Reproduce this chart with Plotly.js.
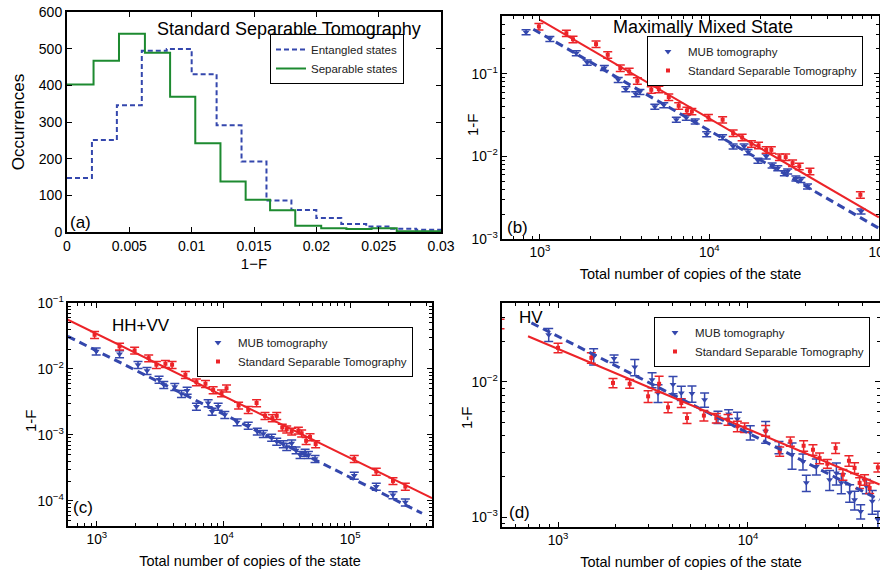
<!DOCTYPE html>
<html><head><meta charset="utf-8">
<script src="https://cdn.plot.ly/plotly-3.0.1.min.js"></script>
<style>html,body{margin:0;padding:0;background:#fff}#chart{width:880px;height:571px}</style>
</head><body><div id="chart"></div>
<script>
// ---------- Panel (a): histograms of 1-F ----------
const entangledEdges = [0, 0.002, 0.004, 0.006, 0.008, 0.010, 0.012, 0.014, 0.016, 0.018, 0.020, 0.022, 0.024, 0.026, 0.028, 0.030];
const entangledCounts = [147, 251, 346, 494, 499, 430, 291, 192, 86, 60, 38, 22, 15, 9, 6];
const separableEdges = [0, 0.00213, 0.00417, 0.00625, 0.00827, 0.01029, 0.01231, 0.01433, 0.01629, 0.01831, 0.02039, 0.02241, 0.02443, 0.02645, 0.0285, 0.030];
const separableCounts = [402, 467, 541, 489, 369, 242, 138, 88, 59, 17, 10, 8, 10, 2, 2];

// ---------- Panel (b): Maximally Mixed State ----------
const mmMubN = [828, 1144, 1638, 1900, 2399, 2897, 3214, 3675, 3891, 4765, 5380, 6380, 7308, 8247, 9640, 11970, 13810, 16020, 16900, 19350, 21650, 23450, 25330, 27700, 28970, 32400, 34680, 37940, 78540];
const mmMubF = [0.319, 0.265, 0.178, 0.137, 0.118, 0.0846, 0.065, 0.0568, 0.0605, 0.0399, 0.0418, 0.0278, 0.0294, 0.0265, 0.0186, 0.0171, 0.0132, 0.0132, 0.0113, 0.0089, 0.0100, 0.0078, 0.0072, 0.00628, 0.0066, 0.0054, 0.0052, 0.00434, 0.00216];
const mmSstN = [986, 1432, 1567, 2143, 2512, 2980, 3361, 3758, 4540, 5033, 5758, 6590, 7366, 7880, 9870, 11970, 13810, 15600, 17700, 19500, 21650, 23200, 25900, 28200, 30970, 33900, 39200, 77800];
const mmSstF = [0.374, 0.31, 0.262, 0.229, 0.17, 0.117, 0.107, 0.0822, 0.064, 0.065, 0.0523, 0.041, 0.036, 0.035, 0.0296, 0.0278, 0.0191, 0.017, 0.0142, 0.0136, 0.012, 0.012, 0.0098, 0.0098, 0.0083, 0.0076, 0.0066, 0.00343];
const mmMubErrPct = 7;
const mmSstErrPct = 9;
const mmMubFitN = [914, 100000];
const mmMubFitF = [0.347, 0.00135];
const mmSstFitN = [1000, 100000];
const mmSstFitF = [0.45, 0.00183];

// ---------- Panel (c): HH+VV ----------
const hvvMubN = [988, 1510, 2112, 2488, 3097, 3375, 4121, 4654, 5160, 6110, 7560, 8130, 9070, 10240, 12820, 15670, 18480, 20630, 23990, 26300, 29670, 31540, 34530, 37400, 40200, 44050, 46800, 52800, 107700, 160700, 217700, 272600];
const hvvMubF = [0.0185, 0.0168, 0.0116, 0.0094, 0.0069, 0.00577, 0.00537, 0.0042, 0.0047, 0.0027, 0.00304, 0.00227, 0.0027, 0.00202, 0.00156, 0.00139, 0.00113, 0.00104, 0.000916, 0.000796, 0.00073, 0.00066, 0.00075, 0.000588, 0.000499, 0.00054, 0.0005, 0.000434, 0.000243, 0.000165, 0.000123, 0.0000955];
const hvvSstN = [959, 1510, 1986, 2565, 2950, 3476, 3925, 5000, 6110, 7200, 8280, 9640, 10560, 13150, 15670, 18240, 21250, 24270, 26300, 29100, 31540, 34530, 39000, 41400, 44900, 48200, 53400, 107700, 160700, 217700, 272600];
const hvvSstF = [0.033, 0.022, 0.0191, 0.0146, 0.0116, 0.012, 0.0116, 0.00817, 0.00632, 0.00597, 0.00479, 0.0043, 0.0051, 0.0028, 0.0024, 0.00305, 0.00195, 0.0018, 0.00195, 0.0013, 0.00122, 0.00113, 0.00117, 0.00106, 0.000815, 0.00093, 0.00073, 0.000434, 0.000279, 0.000201, 0.000165];
const hvvMubErrPct = 12;
const hvvSstErrPct = 12;
const hvvMubFitN = [589, 369000];
const hvvMubFitF = [0.0312, 0.000065];
const hvvSstFitN = [589, 442600];
const hvvSstFitF = [0.0558, 0.00011];

// ---------- Panel (d): HV ----------
const hvMubN = [893, 1540, 1972, 2535, 3126, 3360, 4030, 4456, 5070, 5910, 6950, 7910, 8790, 10280, 12390, 14560, 17060, 19470, 20280, 22900, 26900, 29200, 31000, 34300, 36400, 39200, 42000, 45100, 48300];
const hvMubF = [0.0224, 0.0155, 0.0149, 0.0129, 0.0104, 0.0083, 0.0096, 0.0083, 0.0082, 0.0074, 0.0055, 0.0058, 0.00532, 0.00423, 0.00431, 0.00328, 0.0029, 0.00258, 0.00179, 0.00237, 0.00189, 0.00212, 0.00179, 0.00151, 0.00134, 0.0011, 0.00169, 0.00131, 0.00096];
const hvMubErrPct = [11, 13.7, 6.3, 13.7, 12.7, 15, 14.6, 12, 13.7, 12, 10.5, 7.4, 12, 12, 18.5, 10.5, 22, 13.7, 13.7, 13.7, 17, 18.5, 17, 15, 16, 12, 12, 20, 15];
const hvSstN = [495, 1000, 1497, 1947, 2383, 2980, 3405, 3794, 4456, 4775, 5860, 6810, 7850, 8790, 9600, 12390, 14690, 16710, 19630, 21980, 23820, 26170, 28930, 31600, 34000, 36400, 38700, 41100, 43700, 48300];
const hvSstF = [0.027, 0.0179, 0.0151, 0.00984, 0.0097, 0.00783, 0.0097, 0.00649, 0.00699, 0.00541, 0.00564, 0.0054, 0.00526, 0.0047, 0.0046, 0.00436, 0.00306, 0.00363, 0.00337, 0.00315, 0.00273, 0.00248, 0.00324, 0.00206, 0.00261, 0.00231, 0.00179, 0.00189, 0.00164, 0.00233];
const hvSstErrPct = [8, 8, 9, 7.7, 7.4, 10, 13.7, 9, 7.4, 9, 9, 8, 9, 9, 8, 9, 8, 8, 9, 9, 9, 7.4, 9, 9, 9, 9, 9, 9, 9, 7.4];
const hvMubFitN = [724, 49300];
const hvMubFitF = [0.0274, 0.00134];
const hvSstFitN = [695, 49300];
const hvSstFitF = [0.0218, 0.00174];

// ---------- styling ----------
const W = 880, H = 571;
const px = x => x / W, py = y => 1 - y / H;
const FONT = 'Liberation Sans, Arial, Helvetica, sans-serif';
const BLUE = '#3447ad', RED = '#ec2328', GREEN = '#1d8a30';

function stepY(counts) { return counts.concat([counts[counts.length - 1]]); }
function absErr(vals, pcts) { return vals.map((v, i) => v * pcts[i] / 100); }

function markerTrace(xs, ys, err, isMub, ax, leg, name) {
  const errY = Array.isArray(err)
    ? {type: 'data', array: absErr(ys, err), visible: true}
    : {type: 'percent', value: err, visible: true};
  Object.assign(errY, {color: isMub ? BLUE : RED, thickness: 1.5, width: 4.5});
  return {
    x: xs, y: ys, mode: 'markers', name: name,
    marker: isMub ? {symbol: 'triangle-down', size: 6, color: BLUE}
                  : {symbol: 'square', size: 4, color: RED},
    error_y: errY, xaxis: 'x' + ax, yaxis: 'y' + ax, legend: leg
  };
}
function fitTrace(xs, ys, isMub, ax) {
  return {
    x: xs, y: ys, mode: 'lines', showlegend: false, hoverinfo: 'skip',
    line: isMub ? {color: BLUE, width: 3, dash: '8px,5px'} : {color: RED, width: 2},
    xaxis: 'x' + ax, yaxis: 'y' + ax
  };
}

const traces = [
  {x: entangledEdges, y: stepY(entangledCounts), mode: 'lines', name: 'Entangled states',
   line: {shape: 'hv', color: BLUE, width: 2, dash: '5px,3px'}, xaxis: 'x', yaxis: 'y', legend: 'legend'},
  {x: separableEdges, y: stepY(separableCounts), mode: 'lines', name: 'Separable states',
   line: {shape: 'hv', color: GREEN, width: 2}, xaxis: 'x', yaxis: 'y', legend: 'legend'},

  markerTrace(mmMubN, mmMubF, mmMubErrPct, true, 2, 'legend2', 'MUB tomography'),
  markerTrace(mmSstN, mmSstF, mmSstErrPct, false, 2, 'legend2', 'Standard Separable Tomography'),
  fitTrace(mmMubFitN, mmMubFitF, true, 2),
  fitTrace(mmSstFitN, mmSstFitF, false, 2),

  markerTrace(hvvMubN, hvvMubF, hvvMubErrPct, true, 3, 'legend3', 'MUB tomography'),
  markerTrace(hvvSstN, hvvSstF, hvvSstErrPct, false, 3, 'legend3', 'Standard Separable Tomography'),
  fitTrace(hvvMubFitN, hvvMubFitF, true, 3),
  fitTrace(hvvSstFitN, hvvSstFitF, false, 3),

  markerTrace(hvMubN, hvMubF, hvMubErrPct, true, 4, 'legend4', 'MUB tomography'),
  markerTrace(hvSstN, hvSstF, hvSstErrPct, false, 4, 'legend4', 'Standard Separable Tomography'),
  fitTrace(hvMubFitN, hvMubFitF, true, 4),
  fitTrace(hvSstFitN, hvSstFitF, false, 4)
];

const baseAxis = {
  showline: true, linecolor: 'black', linewidth: 2, mirror: 'ticks',
  ticks: 'inside', ticklen: 5, tickwidth: 1, tickcolor: 'black',
  showgrid: false, zeroline: false, automargin: false, ticklabeloverflow: 'allow',
  tickfont: {family: FONT, size: 11, color: 'black'}
};
const logAxis = Object.assign({}, baseAxis, {
  type: 'log', dtick: 1, exponentformat: 'power',
  minor: {dtick: 'D1', ticks: 'inside', ticklen: 3, tickwidth: 1, tickcolor: 'black', showgrid: false}
});
function ax(extra) { return Object.assign({}, extra.type === 'log' ? logAxis : baseAxis, extra); }
const copiesTitle = t => ({text: t, font: {family: FONT, size: 14.5, color: 'black'}, standoff: 10});

function legendBox(x, y) {
  return {x: px(x), y: py(y), xanchor: 'left', yanchor: 'top', bgcolor: 'white',
          bordercolor: 'black', borderwidth: 1, font: {family: FONT, size: 11.5, color: '#222'}};
}
function note(text, x, y, size, angle) {
  return {text: text, x: px(x), y: py(y), xref: 'paper', yref: 'paper', showarrow: false,
          textangle: angle || 0,
          xanchor: 'center', yanchor: 'middle', font: {family: FONT, size: size, color: 'black'}};
}

const layout = {
  width: W, height: H, margin: {l: 0, r: 0, t: 0, b: 0},
  paper_bgcolor: 'white', plot_bgcolor: 'white', showlegend: true,
  font: {family: FONT, color: 'black'},
  xaxis: ax({domain: [px(67), px(441)], range: [0, 0.03], dtick: 0.005, anchor: 'y',
             tickfont: {family: FONT, size: 14, color: 'black'},
             title: {text: '1\u2212F', font: {family: FONT, size: 15, color: 'black'}, standoff: 6}}),
  yaxis: ax({domain: [py(232), py(12)], range: [0, 600], dtick: 100, anchor: 'x',
             tickfont: {family: FONT, size: 14, color: 'black'},
             title: {text: 'Occurrences', font: {family: FONT, size: 17, color: 'black'}, standoff: 10}}),
  xaxis2: ax({type: 'log', domain: [px(502), px(879)], range: [2.776, 5.001], anchor: 'y2',
              title: copiesTitle('Total number of copies of the state')}),
  yaxis2: ax({type: 'log', domain: [py(239), py(16)], range: [-3, -0.3], anchor: 'x2'}),
  xaxis3: ax({type: 'log', domain: [px(68), px(432)], range: [2.772, 5.646], anchor: 'y3',
              title: copiesTitle('Total number of copies of the state')}),
  yaxis3: ax({type: 'log', domain: [py(526), py(303)], range: [-4.38, -1], anchor: 'x3'}),
  xaxis4: ax({type: 'log', domain: [px(502), 1], range: [2.705, 4.695], anchor: 'y4',
              title: copiesTitle('Total number of copies of the state')}),
  yaxis4: ax({type: 'log', domain: [py(527), py(303)], range: [-3.074, -1.415], anchor: 'x4'}),
  legend: legendBox(270, 34),
  legend2: legendBox(647, 36),
  legend3: legendBox(197, 327),
  legend4: legendBox(654, 317),
  annotations: [
    note('Standard Separable Tomography', 289, 29, 18),
    note('Maximally Mixed State', 703, 27, 18),
    note('HH+VV', 141, 325, 17),
    note('HV', 531, 317, 17),
    note('(a)', 80, 222, 17),
    note('(b)', 517, 227, 17),
    note('(c)', 83, 507, 17),
    note('(d)', 519, 512, 17),
    note('1-F', 473, 125, 15, -90),
    note('1-F', 30, 420, 15, -90),
    note('1-F', 466, 418, 15, -90)
  ]
};

Plotly.newPlot('chart', traces, layout, {staticPlot: true, displayModeBar: false});
</script></body></html>
